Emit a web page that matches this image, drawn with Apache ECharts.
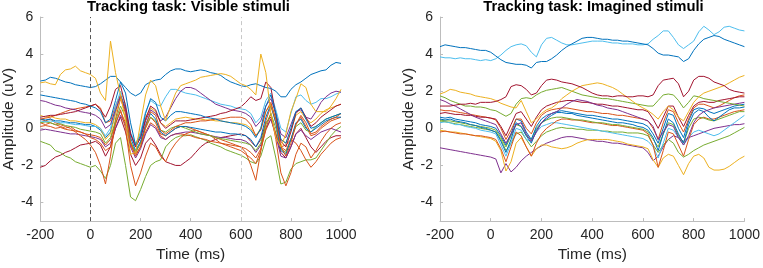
<!DOCTYPE html>
<html>
<head>
<meta charset="utf-8">
<script src="https://cdn.jsdelivr.net/npm/echarts@6/dist/echarts.min.js"></script>
<style>
html,body{margin:0;padding:0;background:#fff;}
#c{width:763px;height:268px;}
</style>
</head>
<body>
<div id="c"></div>
<script>
// ---- DATA ----
const times = [-200,-180,-160,-140,-120,-100,-80,-60,-40,-20,
  0,20,40,60,80,100,120,140,160,180,
  200,220,240,260,280,300,320,340,360,380,
  400,420,440,460,480,500,520,540,560,580,
  600,620,640,660,680,700,720,740,760,780,
  800,820,840,860,880,900,920,940,960,980,1000];
const xTicks = [-200,0,200,400,600,800,1000];
const yTicks = [-4,-2,0,2,4,6];
const titleVisible = 'Tracking task: Visible stimuli';
const titleImagined = 'Tracking task: Imagined stimuli';
const markerTimes = [0,600];

// Visible stimuli channels
const vis01 = [2.55,2.6,2.75,2.7,2.6,2.5,2.45,2.35,2.3,2.25, 2.2,2.25,2.4,2.6,2.8,2.8,2.5,2.2,1.9,1.75, 1.9,2.35,2.5,2.6,2.65,2.9,3.1,3.2,3.2,3.1, 3.05,3.1,3.15,3.1,3.0,2.95,2.85,2.65,2.5,2.4, 2.3,2.25,2.35,2.4,2.3,2.2,2.15,2.0,1.7,1.7, 2.1,2.35,2.5,2.7,2.9,3.0,3.1,3.15,3.4,3.55, 3.5];
const vis02 = [2.45,2.5,2.4,2.35,2.9,3.15,3.2,3.35,3.1,3.0, 2.9,2.7,1.9,1.5,4.7,3.0,1.8,0.4,-1.4,-1.3, 0.3,1.8,2.6,2.3,1.2,0.4,1.2,1.9,2.3,2.4, 2.5,2.6,2.75,2.8,2.85,2.9,2.95,2.9,2.8,2.6, 2.4,2.3,2.1,1.8,4.0,3.0,0.8,-0.5,-1.0,-0.3, 0.9,1.6,2.4,2.2,1.3,0.9,0.9,0.9,1.2,1.6, 2.1];
const vis03 = [1.8,1.75,1.7,1.65,1.6,1.55,1.5,1.45,1.35,1.3, 1.2,1.1,0.9,0.3,0.5,1.5,2.5,1.9,0.3,-0.9, -0.4,0.8,1.6,1.4,0.6,0.4,0.7,0.9,0.9,0.85, 0.8,0.75,0.7,0.6,0.55,0.5,0.4,0.35,0.3,0.25, 0.2,0.1,-0.1,-0.5,0.0,1.2,1.8,0.8,-0.6,-0.8, 0.0,0.9,1.1,0.5,0.0,0.1,0.3,0.5,0.6,0.7, 0.8];
const vis04 = [0.5,0.4,0.5,0.3,0.2,0.1,0.0,-0.2,-0.4,-0.6, -0.9,-1.3,-2.0,-3.0,-1.5,0.5,1.6,0.8,-0.8,-1.3, -0.8,0.0,0.6,0.3,-0.3,-0.4,-0.2,0.0,0.1,0.1, 0.0,-0.1,-0.2,-0.3,-0.4,-0.5,-0.6,-0.7,-0.8,-0.9, -1.0,-1.3,-2.0,-2.8,-1.2,0.4,1.2,0.3,-1.0,-1.2, -0.6,0.2,0.6,0.1,-0.4,-0.3,0.0,0.2,0.4,0.5, 0.6];
const vis05 = [0.3,0.2,0.3,0.2,0.1,0.0,0.1,-0.1,-0.2,-0.3, -0.5,-0.6,-0.8,-1.2,-1.0,0.2,1.0,0.0,-2.0,-3.1, -2.4,-1.5,-0.8,-1.0,-1.5,-1.8,-1.2,-0.8,-0.5,-0.3, -0.2,-0.1,-0.2,-0.3,-0.4,-0.6,-0.8,-0.9,-1.0,-1.1, -1.2,-1.4,-1.6,-1.9,-1.2,0.0,0.8,-0.6,-2.4,-3.1, -2.4,-1.4,-0.8,-1.0,-1.6,-1.2,-0.7,-0.3,0.0,0.2, 0.3];
const vis06 = [-0.7,-0.8,-0.9,-1.2,-1.3,-1.5,-1.6,-1.8,-1.9,-2.0, -2.1,-2.0,-2.3,-2.7,-2.0,-0.8,-0.5,-2.0,-3.7,-3.9, -3.3,-2.6,-2.0,-1.8,-1.7,-1.0,-0.7,-0.5,-0.4,-0.4, -0.35,-0.45,-0.55,-0.65,-0.8,-0.9,-1.0,-1.15,-1.25,-1.35, -1.45,-1.6,-1.8,-1.9,-1.5,-0.6,-0.4,-1.6,-3.0,-2.9, -2.2,-1.9,-1.8,-1.7,-1.7,-1.6,-1.2,-0.8,-0.4,-0.1, 0.1];
const vis07 = [-2.1,-2.0,-1.75,-1.55,-1.45,-1.3,-1.2,-1.05,-0.9,-0.85, -0.8,-0.7,-0.9,-1.5,-1.0,0.0,0.6,-0.2,-1.4,-2.0, -1.6,-0.8,-0.5,-0.9,-1.4,-1.8,-1.9,-2.0,-2.0,-1.8, -1.6,-1.3,-1.0,-0.8,-0.7,-0.6,-0.5,-0.45,-0.4,-0.35, -0.3,-0.4,-0.7,-1.0,-0.6,0.3,0.6,-0.3,-1.3,-1.6, -1.0,-0.3,0.0,-0.5,-1.0,-1.3,-1.0,-0.7,-0.5,-0.4, -0.4];
const vis08 = [0.6,0.65,0.7,0.7,0.75,0.8,0.85,0.9,1.0,1.1, 1.2,1.3,1.0,0.6,1.2,2.1,2.3,1.2,-0.3,-1.0, -0.5,0.5,1.2,1.0,0.3,0.0,0.2,0.4,0.4,0.4, 0.45,0.5,0.55,0.6,0.65,0.7,0.8,0.85,0.95,1.05, 1.15,1.4,1.7,1.5,1.6,2.5,2.2,0.7,-0.7,-1.0, -0.2,0.8,1.1,0.6,0.1,0.3,0.6,0.8,1.0,1.2, 1.3];
const vis09 = [0.5,0.55,0.6,0.7,0.8,0.9,1.0,1.05,1.1,1.15, 1.2,1.3,1.1,0.3,0.4,1.2,1.8,0.9,-0.8,-1.5, -1.0,0.1,0.9,0.7,-0.1,-0.3,-0.1,0.1,0.2,0.3, 0.3,0.35,0.4,0.4,0.45,0.5,0.5,0.55,0.6,0.6, 0.6,0.5,0.2,-0.4,-0.1,0.9,1.4,0.5,-1.0,-1.5, -0.8,0.2,0.7,0.3,-0.3,-0.2,0.1,0.3,0.5,0.6, 0.8];
const vis10 = [1.5,1.45,1.35,1.25,1.2,1.1,1.05,1.0,0.9,0.85, 0.8,0.7,0.5,0.0,0.2,1.0,1.7,1.0,-0.3,-1.0, -0.5,0.4,1.0,0.8,0.4,0.6,1.1,1.6,2.0,2.2, 2.2,2.1,1.9,1.7,1.5,1.3,1.2,1.1,1.0,0.95, 0.9,0.8,0.6,0.1,0.4,1.2,1.6,0.8,-0.3,-0.5, 0.2,0.9,1.0,0.6,0.5,0.9,1.4,1.7,1.9,2.0, 1.95];
const vis11 = [0.4,0.35,0.4,0.35,0.3,0.3,0.25,0.2,0.2,0.15, 0.1,0.1,0.0,-0.4,0.0,1.2,2.0,1.3,-0.2,-0.9, -0.2,0.9,1.5,1.3,1.2,1.7,2.1,2.1,2.0,1.9, 1.85,1.8,1.7,1.6,1.5,1.4,1.3,1.25,1.2,1.1, 1.05,1.0,0.8,0.3,0.6,1.5,1.9,1.0,0.0,-0.2, 0.8,1.7,1.8,1.5,1.3,1.4,1.6,1.6,1.7,1.85, 1.95];
const vis12 = [0.3,0.35,0.3,0.2,0.25,0.15,0.1,0.05,-0.05,-0.1, -0.15,-0.2,-0.3,-0.8,-0.5,0.4,1.2,0.6,-0.7,-1.3, -0.8,0.1,0.6,0.4,-0.1,-0.2,0.0,0.1,0.1,0.0, -0.1,-0.2,-0.3,-0.35,-0.4,-0.5,-0.55,-0.6,-0.65,-0.7, -0.75,-0.8,-0.9,-1.2,-0.8,0.2,0.8,0.0,-1.1,-1.3, -0.6,0.1,0.3,-0.1,-0.2,0.1,0.3,0.5,0.6,0.7, 0.8];
const vis13 = [0.7,0.6,0.65,0.55,0.5,0.5,0.4,0.4,0.35,0.3, 0.3,0.2,0.0,-0.6,-0.3,0.8,1.6,1.0,-0.3,-0.8, -0.3,0.6,1.1,0.9,0.3,0.1,0.3,0.5,0.55,0.6, 0.55,0.5,0.5,0.45,0.45,0.4,0.4,0.35,0.3,0.3, 0.25,0.2,0.0,-0.4,0.0,0.9,1.3,0.5,-0.6,-0.8, -0.1,0.7,0.9,0.5,0.3,0.5,0.8,1.0,1.1,1.2, 1.3];
const vis14 = [-0.1,-0.05,-0.1,-0.15,-0.2,-0.25,-0.3,-0.3,-0.35,-0.4, -0.45,-0.5,-0.6,-1.0,-0.8,0.0,0.7,0.2,-1.0,-1.6, -1.1,-0.3,0.2,0.0,-0.5,-0.6,-0.4,-0.3,-0.25,-0.2, -0.2,-0.25,-0.3,-0.35,-0.4,-0.45,-0.5,-0.5,-0.55,-0.6, -0.6,-0.7,-0.9,-1.3,-0.9,0.0,0.5,-0.4,-1.5,-1.6, -1.0,-0.3,-0.1,-0.4,-0.6,-0.4,-0.2,-0.1,0.0,-0.1, -0.2];
const vis15 = [0.5,0.45,0.5,0.4,0.4,0.35,0.3,0.3,0.25,0.2, 0.2,0.1,-0.1,-0.5,-0.2,0.9,1.8,1.1,-0.5,-1.2, -0.7,0.2,0.8,0.5,-0.2,-0.4,-0.2,0.0,0.1,0.1, 0.05,0.0,-0.05,-0.1,-0.15,-0.2,-0.2,-0.25,-0.3,-0.3, -0.35,-0.4,-0.6,-1.0,-0.5,0.6,1.3,0.3,-1.2,-1.4, -0.6,0.3,0.5,0.0,-0.2,0.0,0.2,0.4,0.5,0.6, 0.6];
const vis16 = [0.1,0.15,0.1,0.0,0.05,-0.05,-0.1,-0.15,-0.2,-0.3, -0.35,-0.4,-0.5,-0.9,-0.6,0.3,0.9,0.3,-0.9,-1.4, -1.0,-0.2,0.3,0.1,-0.4,-0.6,-0.4,-0.3,-0.3,-0.35, -0.4,-0.5,-0.55,-0.6,-0.7,-0.75,-0.8,-0.85,-0.9,-0.95, -1.0,-1.1,-1.3,-1.6,-1.1,-0.1,0.5,-0.3,-1.0,-0.9, -0.6,-0.8,-1.2,-1.7,-2.1,-1.8,-1.4,-1.1,-0.8,-0.6, -0.5];

// Imagined stimuli channels
const img01 = [4.4,4.5,4.45,4.4,4.35,4.35,4.3,4.25,4.2,4.2, 4.1,3.9,3.7,3.55,3.5,3.45,3.45,3.4,3.25,3.55, 3.6,3.6,3.75,3.95,4.2,4.4,4.55,4.7,4.85,4.9, 4.9,4.85,4.8,4.8,4.75,4.75,4.7,4.7,4.65,4.6, 4.55,4.5,4.3,4.05,3.95,3.95,3.9,3.85,3.6,3.75, 4.2,4.55,4.8,4.9,5.0,4.95,4.8,4.7,4.6,4.5, 4.4];
const img02 = [3.85,3.8,3.8,3.75,3.8,3.75,3.75,3.7,3.65,3.7, 3.65,3.75,3.95,4.2,4.4,4.5,4.55,4.45,4.1,3.85, 4.5,4.85,4.9,4.75,4.6,4.5,4.5,4.55,4.6,4.65, 4.7,4.7,4.7,4.65,4.6,4.6,4.55,4.55,4.55,4.5, 4.5,4.55,4.8,5.0,5.25,5.25,4.9,4.5,4.3,4.5, 4.7,5.2,5.5,5.3,5.05,5.2,5.45,5.5,5.4,5.3, 5.25];
const img03 = [1.85,1.95,2.1,2.05,1.95,1.9,1.85,1.75,1.7,1.65, 1.6,1.5,1.35,1.25,1.15,1.1,1.5,0.9,0.3,0.5, 0.8,1.0,1.1,1.3,1.6,1.8,2.0,2.15,2.3,2.35, 2.4,2.45,2.4,2.3,2.2,2.05,1.85,1.65,1.45,1.25, 1.1,0.95,0.75,0.5,0.9,1.2,1.0,0.6,0.4,0.9, 1.4,1.7,1.9,2.0,2.1,2.2,2.3,2.45,2.6,2.75, 2.85];
const img04 = [1.2,1.2,1.2,1.25,1.3,1.3,1.35,1.3,1.4,1.4, 1.4,1.45,1.55,1.7,2.25,2.35,2.3,2.1,1.8,1.9, 2.3,2.6,2.65,2.6,2.5,2.45,2.4,2.3,2.2,2.05, 1.9,1.8,1.75,1.75,1.7,1.75,1.75,1.7,1.7,1.75, 1.75,1.7,1.8,2.3,2.6,2.65,2.7,2.4,1.7,2.0, 2.6,2.8,2.8,2.7,2.5,2.4,2.3,2.1,2.0,1.95, 1.9];
const img05 = [1.75,1.65,1.5,1.4,1.3,1.2,1.2,1.15,1.15,1.1, 1.0,0.95,0.8,0.65,0.8,1.3,1.6,1.65,1.6,1.8, 1.95,2.05,2.1,2.15,2.2,2.1,2.0,1.9,1.8,1.75, 1.7,1.65,1.6,1.6,1.55,1.5,1.45,1.4,1.35,1.3, 1.25,1.2,1.2,1.5,1.8,1.85,1.8,1.5,1.1,1.4, 1.75,1.7,1.6,1.55,1.5,1.45,1.4,1.35,1.3,1.25, 1.2];
const img06 = [1.55,1.45,1.3,1.2,1.05,0.9,0.75,0.6,0.5,0.4, 0.3,0.2,-0.3,-0.8,-0.3,0.2,0.3,-0.3,-0.7,-0.2, 0.3,0.6,0.8,0.9,1.1,1.3,1.45,1.55,1.5,1.45, 1.35,1.25,1.2,1.1,1.05,1.0,0.9,0.8,0.7,0.6, 0.5,0.4,0.1,-0.6,-0.2,0.2,0.1,-0.5,-0.9,-0.4, 0.3,0.7,0.9,1.0,1.1,1.15,1.2,1.25,1.3,1.35, 1.4];
const img07 = [-1.05,-1.1,-1.15,-1.2,-1.25,-1.3,-1.35,-1.4,-1.45,-1.5, -1.55,-1.65,-2.4,-1.9,-2.35,-2.1,-1.75,-1.5,-1.3,-1.1, -0.95,-0.8,-0.7,-0.6,-0.5,-0.45,-0.45,-0.5,-0.55,-0.6, -0.65,-0.7,-0.7,-0.75,-0.8,-0.8,-0.85,-0.9,-0.95,-1.0, -1.05,-1.3,-1.75,-1.5,-1.0,-0.6,-0.4,-0.5,-0.7,-0.5, -0.4,-0.3,-0.2,-0.1,0.0,0.05,0.1,0.15,0.2,0.2, 0.25];
const img08 = [-0.1,-0.15,-0.2,-0.2,-0.25,-0.3,-0.35,-0.4,-0.45,-0.5, -0.55,-0.7,-1.2,-2.3,-1.8,-0.8,-0.5,-1.0,-1.5,-1.1, -0.9,-0.9,-1.0,-1.05,-1.1,-1.05,-0.95,-0.8,-0.7,-0.62, -0.6,-0.6,-0.6,-0.6,-0.65,-0.7,-0.75,-0.85,-0.9,-0.95, -1.0,-1.1,-1.7,-2.1,-1.6,-1.4,-1.5,-2.0,-2.5,-1.9, -1.5,-1.4,-1.6,-2.1,-2.25,-2.25,-2.2,-2.05,-1.85,-1.65, -1.5];
const img09 = [0.4,0.35,0.3,0.25,0.2,0.15,0.1,0.05,0.0,-0.05, -0.1,-0.2,-0.6,-1.2,-0.8,-0.3,-0.2,-0.6,-1.0,-0.7, -0.4,-0.2,-0.1,0.0,0.05,0.0,0.0,-0.05,-0.05,-0.1, -0.1,-0.1,-0.15,-0.15,-0.2,-0.2,-0.2,-0.25,-0.25,-0.25, -0.3,-0.4,-0.9,-1.3,-0.9,-0.6,-0.8,-1.3,-1.55,-1.4, -1.2,-1.05,-0.9,-0.8,-0.7,-0.6,-0.5,-0.4,-0.25,-0.1, 0.05];
const img10 = [0.5,0.45,0.5,0.4,0.35,0.3,0.2,0.15,0.05,0.0, -0.1,-0.2,-0.7,-1.3,-0.6,0.3,0.1,-0.4,-0.8,-0.1, 0.3,0.5,0.7,0.85,0.85,0.8,0.8,0.7,0.65,0.6, 0.55,0.5,0.45,0.4,0.35,0.3,0.3,0.25,0.2,0.1, 0.05,-0.1,-0.5,-1.2,-0.3,0.5,0.3,-0.3,-0.8,0.2, 0.8,1.0,0.9,0.6,0.4,0.6,0.8,1.0,1.1,1.1, 1.15];
const img11 = [-0.2,-0.15,-0.2,-0.25,-0.3,-0.3,-0.35,-0.4,-0.4,-0.45, -0.5,-0.6,-1.1,-1.8,-1.0,-0.2,-0.4,-1.0,-1.5,-0.8, -0.3,0.0,0.2,0.4,0.5,0.5,0.45,0.45,0.4,0.35, 0.3,0.3,0.25,0.2,0.15,0.15,0.1,0.05,0.0,-0.05, -0.1,-0.3,-0.9,-2.1,-1.2,-0.2,-0.3,-0.9,-1.5,-0.6, 0.2,0.5,0.6,0.5,0.5,0.6,0.7,0.8,0.9,0.95, 1.0];
const img12 = [0.3,0.35,0.3,0.2,0.2,0.1,0.05,0.0,-0.1,-0.15, -0.2,-0.3,-0.9,-1.5,-0.8,0.0,-0.1,-0.6,-0.7,-0.2, 0.1,0.2,0.3,0.3,0.25,0.2,0.15,0.1,0.05,0.0, -0.05,-0.1,-0.15,-0.2,-0.25,-0.3,-0.35,-0.4,-0.45,-0.5, -0.55,-0.7,-1.0,-1.6,-0.8,0.0,-0.1,-0.5,-0.9,-0.5, -0.2,-0.1,-0.2,-0.3,-0.4,-0.3,-0.1,0.1,0.3,0.5, 0.7];
const img13 = [0.6,0.55,0.6,0.5,0.45,0.4,0.35,0.3,0.2,0.15, 0.1,0.0,-0.4,-0.9,-0.3,0.5,0.4,-0.2,-0.6,0.1, 0.5,0.7,0.8,0.9,0.95,0.9,0.85,0.8,0.75,0.7, 0.7,0.65,0.6,0.55,0.5,0.5,0.45,0.4,0.35,0.3, 0.25,0.1,-0.3,-0.8,0.0,0.8,0.7,0.0,-0.5,0.4, 1.0,1.1,1.05,0.9,0.8,0.9,1.0,1.1,1.2,1.25, 1.3];
const img14 = [1.0,0.95,0.95,0.9,0.85,0.8,0.75,0.7,0.65,0.6, 0.55,0.45,0.0,-0.6,-0.1,0.5,0.5,0.0,-0.3,0.3, 0.7,0.9,1.0,1.05,1.1,1.1,1.05,1.0,0.95,0.9, 0.9,0.85,0.8,0.8,0.75,0.7,0.7,0.65,0.6,0.55, 0.5,0.4,0.0,-0.6,0.3,1.0,0.9,0.3,-0.2,0.5, 1.1,1.3,1.3,1.2,1.1,1.2,1.35,1.5,1.65,1.75, 1.8];
const img15 = [0.8,0.85,0.8,0.75,0.75,0.7,0.7,0.65,0.6,0.6, 0.55,0.5,0.1,-0.4,0.2,0.8,0.9,0.5,0.1,0.6, 1.0,1.2,1.3,1.4,1.45,1.5,1.5,1.45,1.4,1.4, 1.35,1.3,1.3,1.25,1.2,1.2,1.15,1.1,1.05,1.0, 1.0,0.9,0.5,0.0,0.6,1.2,1.2,0.6,0.1,0.7, 1.2,1.4,1.45,1.4,1.4,1.5,1.55,1.6,1.65,1.7, 1.7];
const img16 = [0.45,0.4,0.4,0.35,0.3,0.25,0.2,0.15,0.1,0.05, 0.0,-0.1,-0.5,-1.0,-0.4,0.2,0.1,-0.4,-0.6,0.0, 0.3,0.45,0.55,0.6,0.6,0.55,0.5,0.45,0.45,0.4, 0.35,0.3,0.3,0.25,0.2,0.2,0.15,0.1,0.05,0.0, -0.05,-0.2,-0.6,-1.0,-0.3,0.3,0.2,-0.4,-0.8,0.0, 0.5,0.6,0.55,0.45,0.4,0.5,0.6,0.7,0.8,0.9, 0.9];

// ---- STYLE ----
const C = {blue:'#0072BD', orange:'#D95319', yellow:'#EDB120', purple:'#7E2F8E', green:'#77AC30', lblue:'#4DBEEE', dred:'#A2142F'};
const visSeries = [
  [vis07,C.dred],[vis06,C.green],[vis16,C.orange],[vis14,C.purple],[vis05,C.orange],[vis04,C.orange],
  [vis12,C.green],[vis15,C.blue],[vis13,C.yellow],[vis09,C.orange],[vis11,C.lblue],[vis10,C.purple],
  [vis08,C.dred],[vis03,C.blue],[vis01,C.blue],[vis02,C.yellow]
];
const imgSeries = [
  [img07,C.purple],[img08,C.yellow],[img09,C.green],[img12,C.lblue],[img11,C.orange],[img16,C.green],
  [img10,C.blue],[img13,C.blue],[img14,C.orange],[img15,C.dred],[img06,C.purple],[img05,C.green],
  [img03,C.yellow],[img04,C.dred],[img02,C.lblue],[img01,C.blue]
];

const FONT = "'Liberation Sans', Arial, Helvetica, sans-serif";
const AX = '#bdbdbd';
const TXT = '#262626';

function xAxisDef(gi){
  return {type:'value', gridIndex:gi, min:-200, max:1000, interval:200,
    axisLine:{show:true, onZero:false, lineStyle:{color:AX, width:1}},
    axisTick:{show:true, inside:true, length:3, lineStyle:{color:AX}, customValues:xTicks},
    axisLabel:{color:TXT, fontSize:14, fontFamily:FONT, margin:7, customValues:xTicks, formatter:v=>String(v)},
    splitLine:{show:false},
    name:'Time (ms)', nameLocation:'middle', nameGap:21,
    nameTextStyle:{color:TXT, fontSize:15.5, fontFamily:FONT}};
}
function yAxisDef(gi, gap){
  return {type:'value', gridIndex:gi, min:-5, max:6,
    axisLine:{show:true, onZero:false, lineStyle:{color:AX, width:1}},
    axisTick:{show:true, inside:true, length:3, lineStyle:{color:AX}, customValues:yTicks},
    axisLabel:{color:TXT, fontSize:14, fontFamily:FONT, margin:7, customValues:yTicks, formatter:v=>String(v)},
    splitLine:{show:false},
    name:'Amplitude (uV)', nameLocation:'middle', nameGap:gap,
    nameTextStyle:{color:TXT, fontSize:15.5, fontFamily:FONT}};
}
function mk(vals, color, gi){
  return {type:'line', xAxisIndex:gi, yAxisIndex:gi, showSymbol:false, symbol:'none',
    data: times.map((t,i)=>[t, vals[i]]),
    lineStyle:{color:color, width:1}, itemStyle:{color:color}, z:3, silent:true};
}

const series = [];
series.push({type:'line', xAxisIndex:0, yAxisIndex:0, data:[], z:1, silent:true,
  markLine:{silent:true, symbol:'none', label:{show:false}, animation:false,
    data:[{xAxis:markerTimes[0], lineStyle:{color:'#555555', type:[4,3], width:1}},
          {xAxis:markerTimes[1], lineStyle:{color:'#c8c8c8', type:[4,3], width:1}}]}});
visSeries.forEach(s=>series.push(mk(s[0], s[1], 0)));
imgSeries.forEach(s=>series.push(mk(s[0], s[1], 1)));

const chart = echarts.init(document.getElementById('c'), null, {renderer:'canvas'});
chart.setOption({
  animation:false,
  backgroundColor:'#ffffff',
  grid:[{left:36, top:17, width:305, height:211},{left:440, top:17, width:308, height:211}],
  xAxis:[xAxisDef(0), xAxisDef(1)],
  yAxis:[yAxisDef(0,22), yAxisDef(1,23)],
  graphic:[
    {type:'text', x:188.5, y:7, style:{text:titleVisible, font:"bold 14.8px 'Liberation Sans', Arial, sans-serif", fill:'#000', textAlign:'center', textVerticalAlign:'middle'}},
    {type:'text', x:593.5, y:7, style:{text:titleImagined, font:"bold 14.8px 'Liberation Sans', Arial, sans-serif", fill:'#000', textAlign:'center', textVerticalAlign:'middle'}}
  ],
  series: series
});
</script>
</body>
</html>
